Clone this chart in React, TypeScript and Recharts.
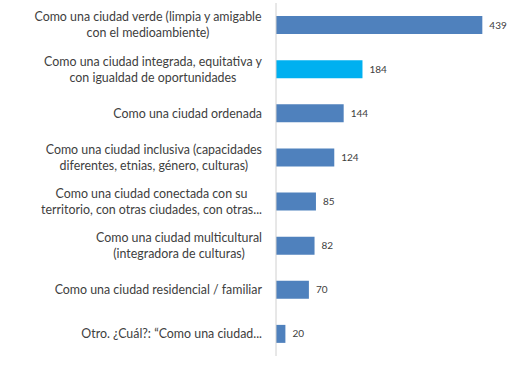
import React from "react";
import { BarChart, Bar, XAxis, YAxis, Cell, LabelList } from "recharts";

const categories = [
  "Como una ciudad verde (limpia y amigable\ncon el medioambiente)",
  "Como una ciudad integrada, equitativa y\ncon igualdad de oportunidades",
  "Como una ciudad ordenada",
  "Como una ciudad inclusiva (capacidades\ndiferentes, etnias, género, culturas)",
  "Como una ciudad conectada con su\nterritorio, con otras ciudades, con otras...",
  "Como una ciudad multicultural\n(integradora de culturas)",
  "Como una ciudad residencial / familiar",
  "Otro. ¿Cuál?: “Como una ciudad...",
];
const values = [439, 184, 144, 124, 85, 82, 70, 20];
const highlighted = [false, true, false, false, false, false, false, false];

const data = categories.map((c, i) => ({ name: c, value: values[i], hl: highlighted[i] }));

const FONT = "Lato, 'Open Sans', sans-serif";
const FONT_SIZE = 12.4;

let ctx: CanvasRenderingContext2D | null = null;
function measure(s: string): number {
  if (!ctx) {
    const c = document.createElement("canvas");
    ctx = c.getContext("2d");
  }
  if (!ctx) return s.length * 6;
  ctx.font = `${FONT_SIZE}px Lato`;
  return ctx.measureText(s).width;
}

const Tick = (props: any) => {
  const { x, y, payload } = props;
  const lines: string[] = String(payload.value).split("\n");
  const right = x - 6;
  const w = Math.max(...lines.map(measure));
  const cx = right - w / 2;
  const lh = 16;
  const start = y - ((lines.length - 1) * lh) / 2;
  return (
    <g>
      {lines.map((l, i) => (
        <text
          key={i}
          x={cx}
          y={start + i * lh}
          dy="0.35em"
          textAnchor="middle"
          fontFamily={FONT}
          fontSize={FONT_SIZE}
          fill="#404040"
        >
          {l}
        </text>
      ))}
    </g>
  );
};

export default function App() {
  return (
    <div style={{ position: "absolute", left: 0, top: 0, background: "#fff" }}>
      <BarChart
        width={515}
        height={366}
        data={data}
        layout="vertical"
        margin={{ top: 3, right: 4, bottom: 10, left: 0 }}
        barSize={18}
      >
        <XAxis type="number" domain={[0, 500]} hide />
        <YAxis
          type="category"
          dataKey="name"
          width={276}
          axisLine={{ stroke: "#D0D0D0" }}
          tickLine={false}
          tick={<Tick />}
          interval={0}
        />
        <Bar dataKey="value" isAnimationActive={false}>
          {data.map((d, i) => (
            <Cell key={i} fill={d.hl ? "#00B0F0" : "#4F81BD"} />
          ))}
          <LabelList
            dataKey="value"
            position="right"
            offset={7}
            fontSize={10}
            fontFamily={FONT}
            fill="#404040"
          />
        </Bar>
      </BarChart>
    </div>
  );
}
